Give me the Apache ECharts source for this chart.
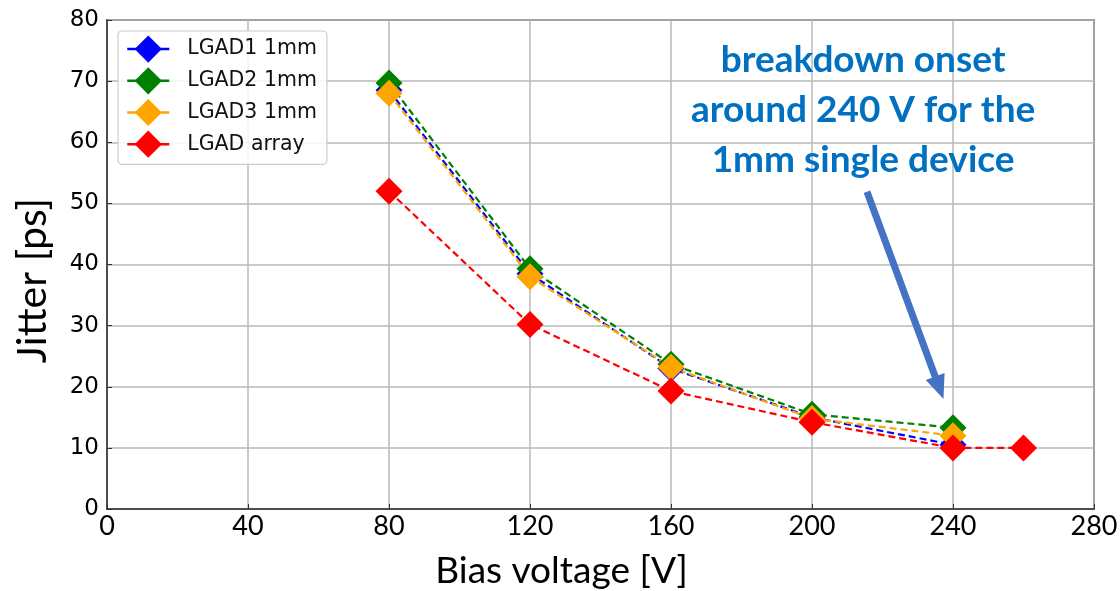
<!DOCTYPE html>
<html><head><meta charset="utf-8">
<script src="https://cdn.jsdelivr.net/npm/echarts@6/dist/echarts.min.js"></script>
<style>html,body{margin:0;padding:0;background:#fff}#c{width:1120px;height:591px}</style>
</head><body><div id="c"></div>
<script>
const voltages = [80, 120, 160, 200, 240];
const arrayVoltages = [80, 120, 160, 200, 240, 260];
const lgad1 = [68.5, 38.5, 23.0, 15.0, 10.5];
const lgad2 = [69.7, 39.3, 23.7, 15.5, 13.3];
const lgad3 = [68.0, 38.0, 23.2, 14.8, 12.0];
const lgadArray = [52.0, 30.2, 19.3, 14.2, 10.0, 10.0];
const seriesNames = ['LGAD1 1mm', 'LGAD2 1mm', 'LGAD3 1mm', 'LGAD array'];
const seriesColors = ['#0000ff', '#008000', '#ffa500', '#ff0000'];
const xTicks = [0, 40, 80, 120, 160, 200, 240, 280];
const yTicks = [0, 10, 20, 30, 40, 50, 60, 70, 80];
const noteLines = ['breakdown onset', 'around 240 V for the', '1mm single device'];

const chart = echarts.init(document.getElementById('c'));
function mk(name, xs, ys, color) {
  return {
    name: name, type: 'line', data: xs.map((x, i) => [x, ys[i]]),
    symbol: 'diamond', symbolSize: 27,
    lineStyle: { color: color, width: 2.2, type: [7, 4] },
    itemStyle: { color: color },
    emphasis: { disabled: true }, animation: false
  };
}
chart.setOption({
  animation: false,
  grid: { left: 107, right: 26, top: 20, bottom: 82, containLabel: false, outerBoundsMode: 'none',
          show: true, borderColor: '#333', borderWidth: 1.5 },
  legend: {
    left: 118, top: 31, orient: 'vertical', itemGap: 4.5, itemWidth: 42, itemHeight: 34,
    padding: [4.5, 10, 6.5, 8], borderColor: '#cccccc', borderWidth: 1.2, borderRadius: 4,
    backgroundColor: 'rgba(255,255,255,0.85)',
    lineStyle: { type: 'solid', width: 2.5 },
    textStyle: { fontFamily: 'DejaVu Sans', fontSize: 20.5, color: '#111', padding: [0, 0, 0, 13] },
    data: seriesNames
  },
  xAxis: {
    type: 'value', min: xTicks[0], max: xTicks[xTicks.length - 1], interval: 40,
    name: 'Bias voltage [V]', nameLocation: 'middle', nameGap: 44,
    nameTextStyle: { fontFamily: 'Lato', fontSize: 37, color: '#000', padding: [0, 78, 0, 0] },
    axisLine: { show: true, lineStyle: { color: '#333', width: 1.5 } },
    axisTick: { show: true, inside: true, length: 5, lineStyle: { color: '#333' } },
    axisLabel: { fontFamily: 'Lato', fontSize: 27, color: '#000', margin: 4 },
    splitLine: { show: true, lineStyle: { color: '#b8b8b8', width: 1.5 } }
  },
  yAxis: {
    type: 'value', min: yTicks[0], max: yTicks[yTicks.length - 1], interval: 10,
    name: 'Jitter [ps]', nameLocation: 'middle', nameGap: 54, nameRotate: 90,
    nameTextStyle: { fontFamily: 'Lato', fontSize: 41, color: '#000', padding: [0, 32, 0, 0] },
    axisLine: { show: true, lineStyle: { color: '#333', width: 1.5 } },
    axisTick: { show: true, inside: true, length: 5, lineStyle: { color: '#333' } },
    axisLabel: { fontFamily: 'DejaVu Sans', fontSize: 23, color: '#000', margin: 8 },
    splitLine: { show: true, lineStyle: { color: '#b8b8b8', width: 1.5 } }
  },
  series: [
    mk(seriesNames[0], voltages, lgad1, seriesColors[0]),
    mk(seriesNames[1], voltages, lgad2, seriesColors[1]),
    mk(seriesNames[2], voltages, lgad3, seriesColors[2]),
    mk(seriesNames[3], arrayVoltages, lgadArray, seriesColors[3])
  ]
});

// annotation
const tc = chart.convertToPixel({ gridIndex: 0 }, [214.5, 65.2]);
const a0 = chart.convertToPixel({ gridIndex: 0 }, [215.6, 51.9]);
const a1 = chart.convertToPixel({ gridIndex: 0 }, [237.3, 18.0]);
const dx = a1[0] - a0[0], dy = a1[1] - a0[1], L = Math.hypot(dx, dy);
const ux = dx / L, uy = dy / L, px = -uy, py = ux;
const sw = 3.5, hw = 10, hl = 24;
const bx = a1[0] - ux * hl, by = a1[1] - uy * hl;
const pts = [
  [a0[0] + px * sw, a0[1] + py * sw], [bx + px * sw, by + py * sw], [bx + px * hw, by + py * hw],
  [a1[0], a1[1]],
  [bx - px * hw, by - py * hw], [bx - px * sw, by - py * sw], [a0[0] - px * sw, a0[1] - py * sw]
];
chart.setOption({
  graphic: [
    { type: 'polygon', shape: { points: pts }, style: { fill: '#4472c4' }, z: 100 },
    { type: 'text', x: tc[0], y: tc[1], z: 100,
      style: { text: noteLines.join('\n'), fill: '#0070c0', font: 'bold 37px Lato', textAlign: 'center', textVerticalAlign: 'middle', lineHeight: 50 } }
  ]
});
</script></body></html>
